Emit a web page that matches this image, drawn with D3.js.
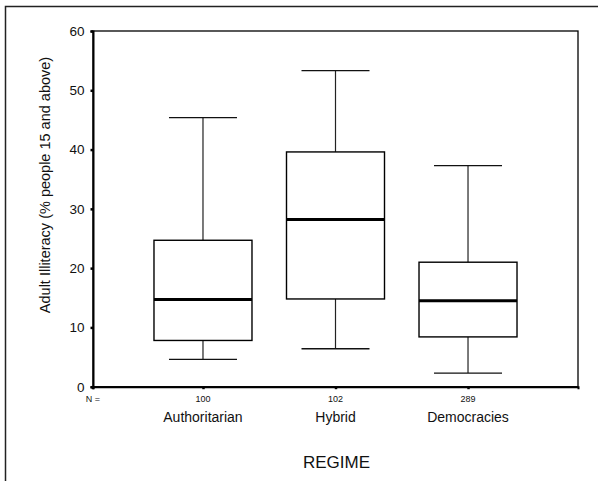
<!DOCTYPE html>
<html><head><meta charset="utf-8">
<script src="https://cdn.jsdelivr.net/npm/d3@7"></script>
<style>body{margin:0;background:#fff}svg{display:block;font-family:Arial,"Liberation Sans",sans-serif}</style>
</head><body>
<script>
const categories = ["Authoritarian", "Hybrid", "Democracies"];
const counts = [100, 102, 289];
const lowWhisker = [4.6, 6.4, 2.3];
const q1 = [7.8, 14.8, 8.4];
const median = [14.7, 28.2, 14.5];
const q3 = [24.7, 39.6, 21.0];
const highWhisker = [45.4, 53.3, 37.3];
const yTicks = [0, 10, 20, 30, 40, 50, 60];

const W = 598, H = 481;
const m = {left: 93, top: 31, right: 578, bottom: 386.7};
const svg = d3.select("body").append("svg").attr("width", W).attr("height", H);

// outer frame (top + left visible)
svg.append("path").attr("d", `M5.5,${H} V6.5 H${W}`).attr("fill","none").attr("stroke","#222").attr("stroke-width",1.5);

const y = d3.scaleLinear().domain([0, 60]).range([m.bottom, m.top]);
const x = d3.scalePoint().domain(categories).range([m.left, m.right]).padding(0.83);

// plot frame
svg.append("rect").attr("x", m.left).attr("y", m.top).attr("width", m.right - m.left).attr("height", m.bottom - m.top)
  .attr("fill","none").attr("stroke","#000").attr("stroke-width",1.3);

// y axis
const yAxis = svg.append("g").attr("transform",`translate(${m.left},0)`)
  .call(d3.axisLeft(y).tickValues(yTicks).tickSize(2.5).tickPadding(6));
yAxis.select(".domain").attr("stroke","#000").attr("stroke-width",2);
yAxis.selectAll(".tick line").attr("stroke","#000").attr("stroke-width",2.5);
yAxis.selectAll("text").attr("font-size",13.5).attr("fill","#111").attr("font-family","Arial, 'Liberation Sans', sans-serif");

// x axis
const xAxis = svg.append("g").attr("transform",`translate(0,${m.bottom})`)
  .call(d3.axisBottom(x).tickSize(2.5).tickFormat(""));
xAxis.select(".domain").attr("stroke","#000").attr("stroke-width",2);
xAxis.selectAll(".tick line").attr("stroke","#000").attr("stroke-width",2.5);
svg.append("line").attr("x1", m.left).attr("x2", m.left).attr("y1", m.bottom).attr("y2", m.bottom+2.5).attr("stroke","#000").attr("stroke-width",2.5);

const boxW = 98, capW = 68;
const idx = d3.range(categories.length);
const g = svg.append("g");
idx.forEach(i => {
  const cx = x(categories[i]);
  // whiskers
  g.append("line").attr("x1",cx).attr("x2",cx).attr("y1",y(highWhisker[i])).attr("y2",y(q3[i])).attr("stroke","#222").attr("stroke-width",1.2);
  g.append("line").attr("x1",cx).attr("x2",cx).attr("y1",y(q1[i])).attr("y2",y(lowWhisker[i])).attr("stroke","#222").attr("stroke-width",1.2);
  g.append("line").attr("x1",cx-capW/2).attr("x2",cx+capW/2).attr("y1",y(highWhisker[i])).attr("y2",y(highWhisker[i])).attr("stroke","#111").attr("stroke-width",1.3);
  g.append("line").attr("x1",cx-capW/2).attr("x2",cx+capW/2).attr("y1",y(lowWhisker[i])).attr("y2",y(lowWhisker[i])).attr("stroke","#111").attr("stroke-width",1.3);
  // box
  g.append("rect").attr("x",cx-boxW/2).attr("y",y(q3[i])).attr("width",boxW).attr("height",y(q1[i])-y(q3[i]))
    .attr("fill","#fff").attr("stroke","#000").attr("stroke-width",1.4);
  g.append("line").attr("x1",cx-boxW/2).attr("x2",cx+boxW/2).attr("y1",y(median[i])).attr("y2",y(median[i])).attr("stroke","#000").attr("stroke-width",3);
  // labels
  svg.append("text").attr("x",cx).attr("y",401.5).attr("text-anchor","middle").attr("font-size",9).attr("fill","#111").text(counts[i]);
  svg.append("text").attr("x",cx).attr("y",422).attr("text-anchor","middle").attr("font-size",14).attr("fill","#111").text(categories[i]);
});
svg.append("text").attr("x",m.left).attr("y",401.5).attr("text-anchor","middle").attr("font-size",9).attr("fill","#111").text("N =");

svg.append("text").attr("x",336.5).attr("y",468).attr("text-anchor","middle").attr("font-size",17).attr("fill","#111").text("REGIME");
svg.append("text").attr("transform",`translate(50,185) rotate(-90)`).attr("text-anchor","middle").attr("font-size",14.5).attr("fill","#111")
  .text("Adult Illiteracy (% people 15 and above)");
</script>
</body></html>
